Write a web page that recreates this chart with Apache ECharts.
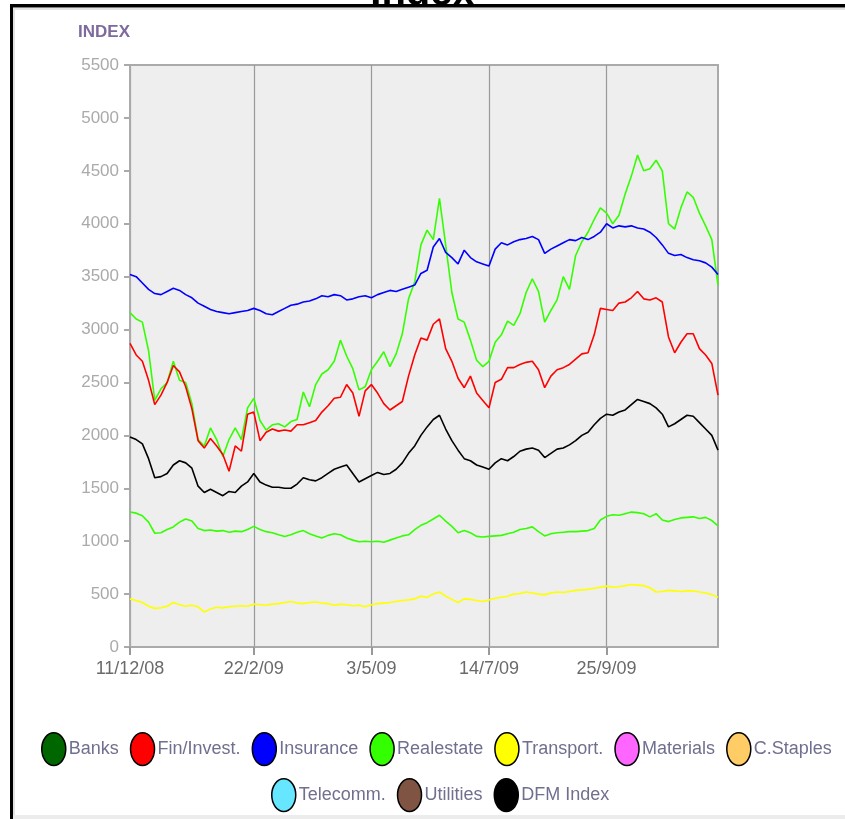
<!DOCTYPE html>
<html>
<head>
<meta charset="utf-8">
<script src="https://cdn.jsdelivr.net/npm/echarts@6/dist/echarts.min.js"></script>
<style>
  html, body { margin: 0; padding: 0; background: #ffffff; }
  #chart { width: 845px; height: 819px; }
</style>
</head>
<body>
<div id="chart"></div>
<script>
const dates = [
  '11/12/08', '14/12/08', '18/12/08', '22/12/08', '25/12/08', '29/12/08', '1/1/09', '5/1/09', '8/1/09', '12/1/09',
  '15/1/09', '19/1/09', '22/1/09', '26/1/09', '29/1/09', '2/2/09', '5/2/09', '9/2/09', '13/2/09', '18/2/09',
  '22/2/09', '26/2/09', '1/3/09', '5/3/09', '8/3/09', '12/3/09', '15/3/09', '19/3/09', '22/3/09', '26/3/09',
  '29/3/09', '2/4/09', '5/4/09', '9/4/09', '12/4/09', '16/4/09', '19/4/09', '23/4/09', '27/4/09', '3/5/09',
  '6/5/09', '10/5/09', '14/5/09', '18/5/09', '21/5/09', '25/5/09', '29/5/09', '1/6/09', '5/6/09', '9/6/09',
  '12/6/09', '16/6/09', '20/6/09', '24/6/09', '27/6/09', '1/7/09', '5/7/09', '9/7/09', '14/7/09', '18/7/09',
  '22/7/09', '26/7/09', '29/7/09', '2/8/09', '6/8/09', '10/8/09', '13/8/09', '17/8/09', '21/8/09', '25/8/09',
  '28/8/09', '1/9/09', '5/9/09', '9/9/09', '13/9/09', '17/9/09', '21/9/09', '25/9/09', '29/9/09', '2/10/09',
  '6/10/09', '10/10/09', '14/10/09', '18/10/09', '21/10/09', '25/10/09', '29/10/09', '2/11/09', '5/11/09', '9/11/09',
  '13/11/09', '17/11/09', '21/11/09', '24/11/09', '28/11/09', '2/12/09'
];
const tickDates = ['11/12/08', '22/2/09', '3/5/09', '14/7/09', '25/9/09'];

const realestate = [
  3160, 3100, 3070, 2800, 2330, 2440, 2500, 2700, 2520, 2500,
  2300, 1960, 1900, 2070, 1960, 1800, 1960, 2070, 1960, 2260,
  2350, 2140, 2050, 2100, 2110, 2080, 2130, 2150, 2410, 2270,
  2480, 2580, 2620, 2700, 2900, 2750, 2630, 2430, 2460, 2620,
  2700, 2790, 2650, 2770, 2960, 3290, 3450, 3800, 3940, 3850,
  4240, 3800, 3350, 3100, 3070, 2900, 2710, 2650, 2700, 2880,
  2950, 3080, 3040, 3150, 3350, 3480, 3360, 3070, 3180, 3280,
  3500, 3380, 3700, 3830, 3920, 4040, 4150, 4100, 4000, 4080,
  4280, 4450, 4650, 4500, 4520, 4600, 4500, 4000, 3950, 4150,
  4300, 4250, 4100, 3980, 3850, 3420
];
const realestateLow = [
  1275, 1265, 1240, 1180, 1075, 1080, 1110, 1135, 1180, 1210,
  1190, 1120, 1100, 1105, 1095, 1100, 1085, 1095, 1090, 1110,
  1140, 1110, 1090, 1080, 1060, 1045, 1060, 1085, 1100, 1070,
  1050, 1030, 1055, 1070, 1060, 1030, 1010, 995, 1000, 995,
  1000, 990, 1010, 1030, 1050, 1060, 1110, 1150, 1175, 1210,
  1245, 1190, 1140, 1080, 1100, 1080, 1045, 1040, 1045, 1050,
  1055, 1070, 1085, 1110, 1120, 1135, 1090, 1050, 1070, 1080,
  1085, 1090, 1090, 1095, 1100, 1120, 1200, 1235, 1250, 1245,
  1260, 1275, 1270, 1260, 1230, 1260, 1200, 1185, 1205, 1220,
  1225, 1230, 1215, 1225, 1195, 1145
];
const finInvest = [
  2870, 2760, 2700, 2520, 2290, 2380, 2500, 2660, 2600, 2460,
  2250, 1950, 1880, 1970, 1900, 1820, 1660, 1900, 1850, 2200,
  2220, 1950, 2030, 2060, 2040, 2050, 2040, 2100, 2100, 2120,
  2140, 2220, 2280, 2350, 2360, 2480, 2400, 2180, 2420, 2480,
  2400, 2300, 2240, 2280, 2320, 2560, 2760, 2920, 2900, 3050,
  3100, 2820, 2700, 2540, 2450, 2560, 2400, 2330, 2260, 2500,
  2530, 2640, 2640, 2670, 2690, 2700, 2620, 2450, 2560, 2620,
  2640, 2670, 2720, 2770, 2780, 2950, 3200, 3190, 3180, 3250,
  3260, 3300, 3360, 3290, 3280, 3300, 3260, 2930, 2780, 2880,
  2960, 2960, 2820, 2760, 2680, 2380
];
const insurance = [
  3520, 3500, 3440, 3380, 3340, 3330, 3360, 3390, 3370, 3330,
  3300, 3250, 3220, 3190, 3170, 3160, 3150, 3160, 3170, 3180,
  3200, 3180, 3150, 3140, 3170, 3200, 3230, 3240, 3260, 3270,
  3290, 3320, 3310, 3330, 3320, 3280, 3290, 3310, 3320, 3300,
  3330, 3350, 3370, 3360, 3380, 3400, 3420, 3530, 3560, 3780,
  3860, 3730, 3680, 3620, 3750, 3680, 3640, 3620, 3600, 3760,
  3820, 3800, 3830, 3850, 3860, 3880, 3850, 3720, 3760, 3790,
  3820, 3850, 3840, 3870, 3850, 3880, 3920, 4000, 3960, 3980,
  3970, 3980, 3960, 3950, 3920, 3870, 3800, 3720, 3700, 3710,
  3680, 3660, 3650, 3630, 3590, 3520
];
const transport = [
  455, 440, 420, 385, 365, 370, 385, 420, 400, 385,
  395, 380, 330, 360, 375, 370, 380, 385, 390, 385,
  405, 400, 395, 405, 410, 420, 430, 415, 410, 420,
  425, 415, 410, 395, 405, 400, 390, 395, 380, 400,
  410, 415, 420, 430, 440, 445, 455, 480, 470, 500,
  520, 480, 450, 420, 455, 450, 440, 430, 445, 460,
  470, 480, 500, 505, 520, 510, 500, 495, 510, 520,
  515, 525, 535, 540, 545, 555, 565, 575, 565, 570,
  580, 590, 585, 580, 560, 520, 525, 535, 530, 525,
  530, 530, 520, 510, 495, 470
];
const dfmIndex = [
  1985, 1960, 1920, 1780, 1600, 1610, 1640, 1720, 1760, 1740,
  1690, 1520, 1460, 1490, 1460, 1430, 1470, 1460, 1520, 1560,
  1640, 1560, 1530, 1510, 1510, 1500, 1500, 1540, 1600, 1580,
  1570, 1600, 1640, 1680, 1700, 1720, 1640, 1560, 1590, 1620,
  1650, 1630, 1640, 1680, 1740, 1830, 1900, 2000, 2080, 2150,
  2190, 2060, 1950, 1860, 1780, 1760, 1720, 1700, 1680, 1740,
  1780, 1760, 1800, 1850, 1870, 1880, 1860, 1790, 1830, 1870,
  1880, 1910, 1950, 2000, 2030, 2100, 2160, 2200, 2190, 2220,
  2240, 2290, 2340, 2320, 2300, 2260, 2200, 2080, 2110, 2150,
  2190, 2180, 2120, 2060, 2000, 1860
];

const legendRow1 = ['Banks', 'Fin/Invest.', 'Insurance', 'Realestate', 'Transport.', 'Materials', 'C.Staples'];
const legendRow2 = ['Telecomm.', 'Utilities', 'DFM Index'];
const colors = {
  'Banks': '#006600',
  'Fin/Invest.': '#ff0000',
  'Insurance': '#0000ff',
  'Realestate': '#33ff00',
  'Transport.': '#ffff00',
  'Materials': '#ff66ff',
  'C.Staples': '#ffcc66',
  'Telecomm.': '#66e6ff',
  'Utilities': '#7f5442',
  'DFM Index': '#000000'
};

const labelFont = '"Liberation Sans", Arial, sans-serif';
const ellipseIcon = 'path://M11,0 C17.08,0 22,6.72 22,15 C22,23.28 17.08,30 11,30 C4.92,30 0,23.28 0,15 C0,6.72 4.92,0 11,0 Z';
const isTick = (index, value) => tickDates.includes(value);

function lineSeries(name, data) {
  return {
    name: name,
    type: 'line',
    data: data,
    showSymbol: false,
    symbol: 'none',
    color: colors[name],
    lineStyle: { color: colors[name], width: 1.6 },
    emphasis: { disabled: true }
  };
}

function legendOptions(names, left, top) {
  return {
    data: names,
    left: left,
    top: top,
    icon: ellipseIcon,
    itemWidth: 24,
    itemHeight: 34,
    itemGap: 11,
    selectedMode: false,
    itemStyle: { borderColor: '#000000', borderWidth: 1.5 },
    textStyle: { color: '#6f6f8f', fontSize: 18, fontFamily: labelFont, padding: [0, 0, 0, -2] }
  };
}

const chart = echarts.init(document.getElementById('chart'), null, { renderer: 'canvas' });
chart.setOption({
  animation: false,
  title: {
    text: 'Index',
    left: 'center',
    top: -31,
    textStyle: { color: '#000000', fontSize: 40, fontWeight: 'bold', fontFamily: labelFont }
  },
  legend: [
    legendOptions(legendRow1, 36, 727),
    legendOptions(legendRow2, 266, 773)
  ],
  grid: {
    left: 130,
    top: 65,
    width: 588,
    height: 582,
    show: true,
    backgroundColor: '#eeeeee',
    borderColor: '#aaaaaa',
    borderWidth: 2
  },
  xAxis: {
    type: 'category',
    data: dates,
    boundaryGap: false,
    axisLine: { lineStyle: { color: '#aaaaaa', width: 2 } },
    axisTick: { interval: isTick, length: 8, lineStyle: { color: '#999999', width: 2 } },
    axisLabel: {
      interval: isTick,
      color: '#6a6a6a',
      fontSize: 18,
      fontFamily: labelFont,
      margin: 13
    },
    splitLine: { show: true, interval: isTick, lineStyle: { color: '#999999', width: 1.2 } }
  },
  yAxis: {
    type: 'value',
    min: 0,
    max: 5500,
    interval: 500,
    name: 'INDEX',
    nameLocation: 'end',
    nameGap: 24,
    nameTextStyle: {
      color: '#7f6a9e',
      fontWeight: 'bold',
      fontSize: 17,
      fontFamily: labelFont,
      align: 'right'
    },
    axisLine: { show: true, lineStyle: { color: '#aaaaaa', width: 2 } },
    axisTick: { show: true, length: 6, lineStyle: { color: '#aaaaaa', width: 2 } },
    axisLabel: {
      color: '#aaaaaa',
      fontSize: 17,
      fontFamily: labelFont,
      margin: 11,
      formatter: value => String(value)
    },
    splitLine: { show: false }
  },
  graphic: [
    { type: 'rect', z: 100, shape: { x: 13, y: 8, width: 832, height: 2 }, style: { fill: '#e2e2e2' } },
    { type: 'rect', z: 100, shape: { x: 13, y: 8, width: 2, height: 811 }, style: { fill: '#e2e2e2' } },
    { type: 'rect', z: 100, shape: { x: 13, y: 815, width: 832, height: 4 }, style: { fill: '#ececec' } },
    { type: 'rect', z: 101, shape: { x: 10, y: 4, width: 835, height: 3.5 }, style: { fill: '#000000' } },
    { type: 'rect', z: 101, shape: { x: 10, y: 4, width: 3, height: 815 }, style: { fill: '#000000' } }
  ],
  series: [
    lineSeries('Banks', []),
    lineSeries('Realestate', realestateLow),
    lineSeries('Realestate', realestate),
    lineSeries('Transport.', transport),
    lineSeries('Insurance', insurance),
    lineSeries('Fin/Invest.', finInvest),
    lineSeries('Materials', []),
    lineSeries('C.Staples', []),
    lineSeries('Telecomm.', []),
    lineSeries('Utilities', []),
    lineSeries('DFM Index', dfmIndex)
  ]
});
</script>
</body>
</html>
